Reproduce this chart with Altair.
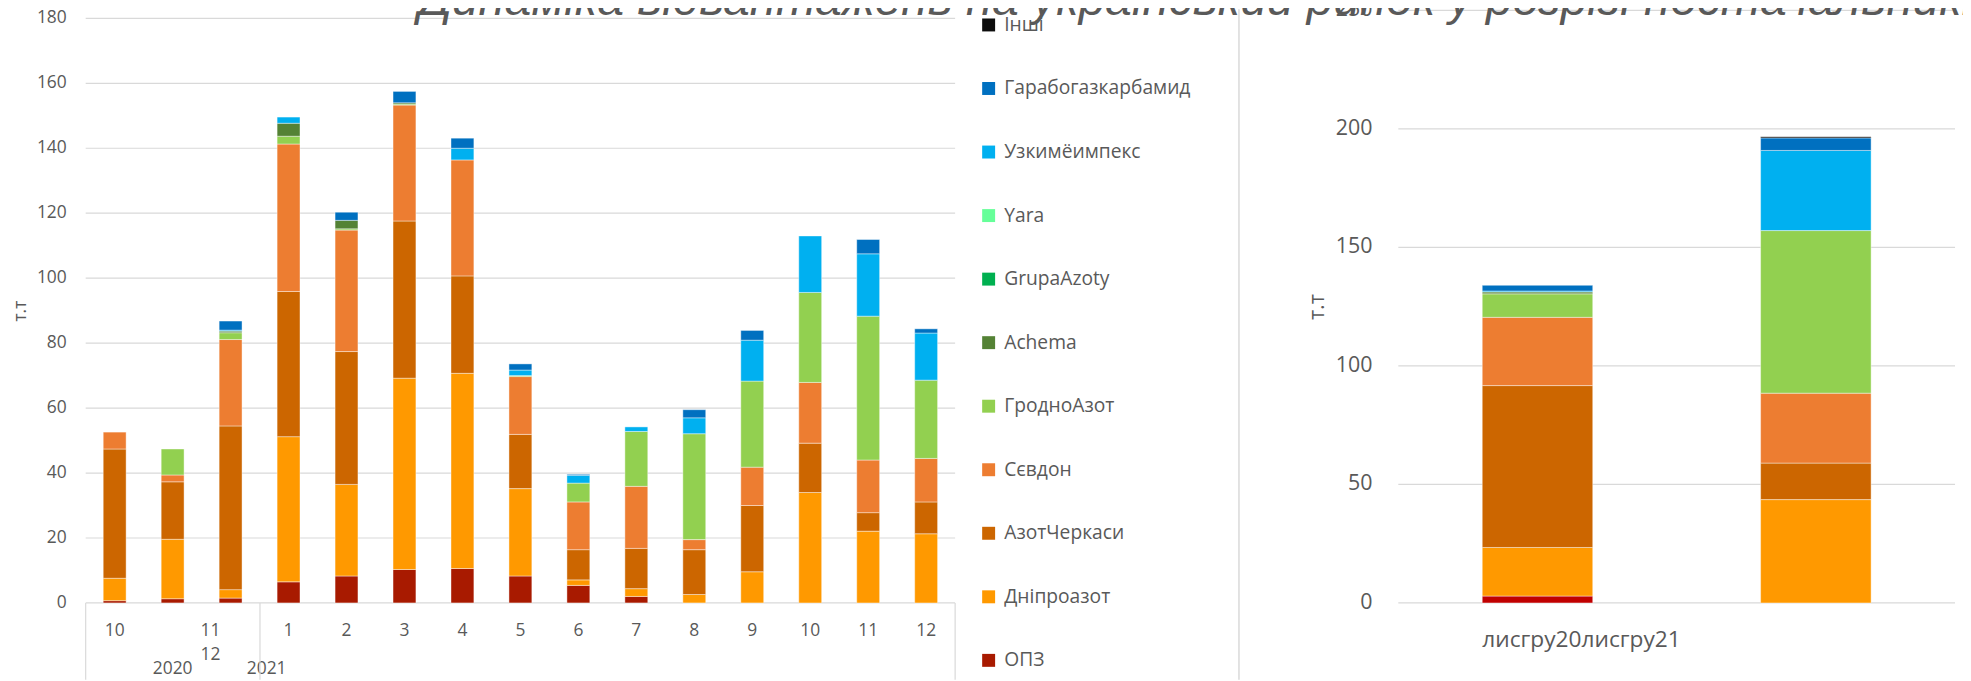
import altair as alt
import pandas as pd

TITLE = "Динаміка відвантажень на український ринок у розрізі постачальників"
AXIS_TITLE = "т.т"

periods = ["2020-10", "2020-11", "2020-12", "2021-01", "2021-02", "2021-03", "2021-04",
           "2021-05", "2021-06", "2021-07", "2021-08", "2021-09", "2021-10", "2021-11", "2021-12"]
month_labels = ["10", "11", "12", "1", "2", "3", "4", "5", "6", "7", "8", "9", "10", "11", "12"]
years = ["2020", "2021"]

# stacking order: bottom -> top
suppliers = ["ОПЗ", "Дніпроазот", "АзотЧеркаси", "Сєвдон", "ГродноАзот", "Achema",
             "GrupaAzoty", "Yara", "Узкимёимпекс", "Гарабогазкарбамид", "Інші"]
colors = ["#A81A00", "#FF9900", "#CC6600", "#ED7D31", "#92D050", "#548235",
          "#00B050", "#66FF99", "#00B0F0", "#0070C0", "#0D0D0D"]
colors_right = ["#C00000", "#FF9900", "#CC6600", "#ED7D31", "#92D050", "#548235",
                "#00B050", "#66FF99", "#00B0F0", "#0070C0", "#0D0D0D"]

opz = [0.7, 1.3, 1.5, 6.5, 8.3, 10.3, 10.6, 8.3, 5.4, 2.0, 0, 0, 0, 0, 0]
dnipro = [6.9, 18.3, 2.6, 44.7, 28.2, 58.9, 60.1, 26.9, 1.7, 2.4, 2.6, 9.6, 34.0, 22.1, 21.3]
azotch = [39.8, 17.7, 50.4, 44.7, 40.9, 48.4, 30.0, 16.7, 9.3, 12.4, 13.8, 20.4, 15.2, 5.7, 9.8]
sevdon = [5.2, 2.1, 26.6, 45.4, 37.4, 35.7, 35.7, 17.8, 14.7, 19.1, 3.1, 11.8, 18.7, 16.2, 13.4]
grodno = [0, 8.0, 2.1, 2.4, 0.4, 0.3, 0, 0.3, 5.8, 16.9, 32.6, 26.5, 27.7, 44.3, 24.1]
achema = [0, 0, 0.5, 4.0, 2.6, 0.4, 0, 0, 0, 0, 0, 0, 0, 0, 0]
grupa = [0] * 15
yara = [0] * 15
uzkim = [0, 0, 0.3, 1.9, 0, 0, 3.6, 1.7, 2.4, 1.4, 4.9, 12.6, 17.4, 19.2, 14.5]
garabo = [0, 0, 2.8, 0, 2.5, 3.5, 3.1, 1.9, 0.3, 0, 2.5, 3.0, 0, 4.4, 1.3]
inshi = [0] * 15
monthly = [opz, dnipro, azotch, sevdon, grodno, achema, grupa, yara, uzkim, garabo, inshi]

groups = ["лисгру20", "лисгру21"]
grp_opz = [2.9, 0]
grp_dnipro = [20.5, 43.6]
grp_azotch = [68.3, 15.4]
grp_sevdon = [28.8, 29.5]
grp_grodno = [9.9, 68.6]
grp_achema = [0.8, 0]
grp_grupa = [0, 0]
grp_yara = [0, 0]
grp_uzkim = [0.4, 33.8]
grp_garabo = [2.4, 5.3]
grp_inshi = [0, 0.5]
grouped = [grp_opz, grp_dnipro, grp_azotch, grp_sevdon, grp_grodno, grp_achema,
           grp_grupa, grp_yara, grp_uzkim, grp_garabo, grp_inshi]

left_ticks = [0, 20, 40, 60, 80, 100, 120, 140, 160, 180]
right_ticks = [0, 50, 100, 150, 200, 250]

# ---------- tables ----------
left_rows = []
for r, (s, vals) in enumerate(zip(suppliers, monthly)):
    for p, v in zip(periods, vals):
        left_rows.append({"period": p, "supplier": s, "value": v, "rank": r})
left_df = pd.DataFrame(left_rows)

right_rows = []
for r, (s, vals) in enumerate(zip(suppliers, grouped)):
    for g, v in zip(groups, vals):
        right_rows.append({"grp": g, "supplier": s, "value": v, "rank": r})
right_df = pd.DataFrame(right_rows)

legend_order = list(reversed(suppliers))
legend_colors = list(reversed(colors))
legend_colors_r = list(reversed(colors_right))

GRAY = "#595959"
GRID = "#D9D9D9"
FONT = "Open Sans"

one = pd.DataFrame({"k": [0]})

# ---------- left panel ----------
xL_scale = alt.Scale(domain=periods, range=[78, 951], paddingInner=0.605, paddingOuter=0.3025)
yL_scale = alt.Scale(domain=[0, 180], range=[596, 9], nice=False)


def xL(**kw):
    return alt.X("period:N", scale=xL_scale, axis=None, **kw)


ticksL_df = pd.DataFrame({"tick": left_ticks})

grid_left = alt.Chart(ticksL_df).mark_rule(color=GRID, strokeWidth=1.2).encode(
    y=alt.Y("tick:Q", scale=yL_scale, axis=None), x=alt.value(78), x2=alt.value(951))

ylabels_left = alt.Chart(ticksL_df).mark_text(
    font=FONT, fontSize=17.5, color=GRAY, align="right", baseline="middle"
).encode(y=alt.Y("tick:Q", scale=yL_scale, axis=None), x=alt.value(59), text="tick:Q")

ytitle_left = alt.Chart(pd.DataFrame({"t": [AXIS_TITLE]})).mark_text(
    font=FONT, fontSize=17.5, color=GRAY, align="center", baseline="middle", angle=270
).encode(x=alt.value(13), y=alt.value(303), text="t:N")

bars_left = alt.Chart(left_df).transform_filter("datum.value > 0").mark_bar(
    stroke="white", strokeWidth=0.6, strokeOpacity=0.7
).encode(
    x=xL(),
    y=alt.Y("value:Q", stack="zero", scale=yL_scale, axis=None),
    color=alt.Color("supplier:N", scale=alt.Scale(domain=legend_order, range=legend_colors),
                    legend=alt.Legend(orient="none", legendX=975, legendY=6, title=None,
                                      direction="vertical", columns=1,
                                      symbolType="square", symbolSize=169, symbolStrokeWidth=0,
                                      labelFont=FONT, labelFontSize=19.3, labelColor=GRAY,
                                      labelOffset=6, labelLimit=400, rowPadding=43.8,
                                      padding=0, offset=0)),
    order=alt.Order("rank:Q", sort="ascending"),
)

text_style = dict(font=FONT, fontSize=17.5, color=GRAY, baseline="middle", align="center")

main_labels = alt.Chart(pd.DataFrame({"period": [periods[0]] + periods[3:],
                                      "label": [month_labels[0]] + month_labels[3:]})).mark_text(
    **text_style).encode(x=xL(), y=alt.value(624), text="label:N")

odd11 = alt.Chart(pd.DataFrame({"period": [periods[1]], "label": [month_labels[1]]})).mark_text(
    dx=38, **text_style).encode(x=xL(), y=alt.value(624), text="label:N")
odd12 = alt.Chart(pd.DataFrame({"period": [periods[1]], "label": [month_labels[2]]})).mark_text(
    dx=38, **text_style).encode(x=xL(), y=alt.value(648), text="label:N")

year20 = alt.Chart(pd.DataFrame({"period": [periods[1]], "label": [years[0]]})).mark_text(
    **text_style).encode(x=xL(), y=alt.value(662), text="label:N")
year21 = alt.Chart(pd.DataFrame({"period": [periods[3]], "label": [years[1]]})).mark_text(
    dx=-22, **text_style).encode(x=xL(), y=alt.value(662), text="label:N")

seps = [alt.Chart(one).mark_rule(color=GRID, strokeWidth=1.2).encode(
    x=alt.value(xv), y=alt.value(596), y2=alt.value(673)) for xv in (78, 253, 951)]

left = alt.layer(grid_left, ylabels_left, ytitle_left, bars_left, main_labels, odd11, odd12,
                 year20, year21, *seps)

# ---------- right panel ----------
xR_scale = alt.Scale(domain=groups, range=[1396, 1955], paddingInner=0.603, paddingOuter=0.3015)
yR_scale = alt.Scale(domain=[0, 250], range=[596, 1], nice=False)

ticksR_df = pd.DataFrame({"tick": right_ticks})

grid_right = alt.Chart(ticksR_df).mark_rule(color=GRID, strokeWidth=1.2).encode(
    y=alt.Y("tick:Q", scale=yR_scale, axis=None), x=alt.value(1396), x2=alt.value(1955))

ylabels_right = alt.Chart(ticksR_df).mark_text(
    font=FONT, fontSize=21.5, color=GRAY, align="right", baseline="middle"
).encode(y=alt.Y("tick:Q", scale=yR_scale, axis=None), x=alt.value(1370), text="tick:Q")

ytitle_right = alt.Chart(pd.DataFrame({"t": [AXIS_TITLE]})).mark_text(
    font=FONT, fontSize=21.5, color=GRAY, align="center", baseline="middle", angle=270
).encode(x=alt.value(1315), y=alt.value(299), text="t:N")

bars_right = alt.Chart(right_df).transform_filter("datum.value > 0").mark_bar(
    stroke="white", strokeWidth=0.6, strokeOpacity=0.7
).encode(
    x=alt.X("grp:N", scale=xR_scale, axis=None),
    y=alt.Y("value:Q", stack="zero", scale=yR_scale, axis=None),
    color=alt.Color("supplier:N", scale=alt.Scale(domain=legend_order, range=legend_colors_r),
                    legend=None),
    order=alt.Order("rank:Q", sort="ascending"),
)

right_label = alt.Chart(pd.DataFrame({"grp": [groups[0]], "label": ["".join(groups)]})).mark_text(
    font=FONT, fontSize=22.8, color=GRAY, baseline="middle", align="left"
).encode(x=alt.X("grp:N", scale=xR_scale, axis=None, bandPosition=0), y=alt.value(633),
         text="label:N")

right = alt.layer(grid_right, ylabels_right, ytitle_right, bars_right, right_label)

# ---------- decorations ----------
divider = alt.Chart(one).mark_rule(color=GRID, strokeWidth=1.5).encode(
    x=alt.value(1236), y=alt.value(0), y2=alt.value(673))

title_layer = alt.Chart(pd.DataFrame({"t": [TITLE]})).mark_text(
    align="left", baseline="alphabetic", font="Liberation Sans", fontSize=48,
    fontStyle="italic", color=GRAY
).encode(x=alt.value(412), y=alt.value(6), text="t:N")

chart = alt.layer(left, right, divider, title_layer).resolve_scale(
    x="independent", y="independent", color="independent"
).properties(
    width=1963, height=673, padding=0,
    autosize=alt.AutoSizeParams(type="none"),
    background="white",
).configure_view(stroke=None)

chart.save("out.html", embed_options={"renderer": "svg", "actions": False})
